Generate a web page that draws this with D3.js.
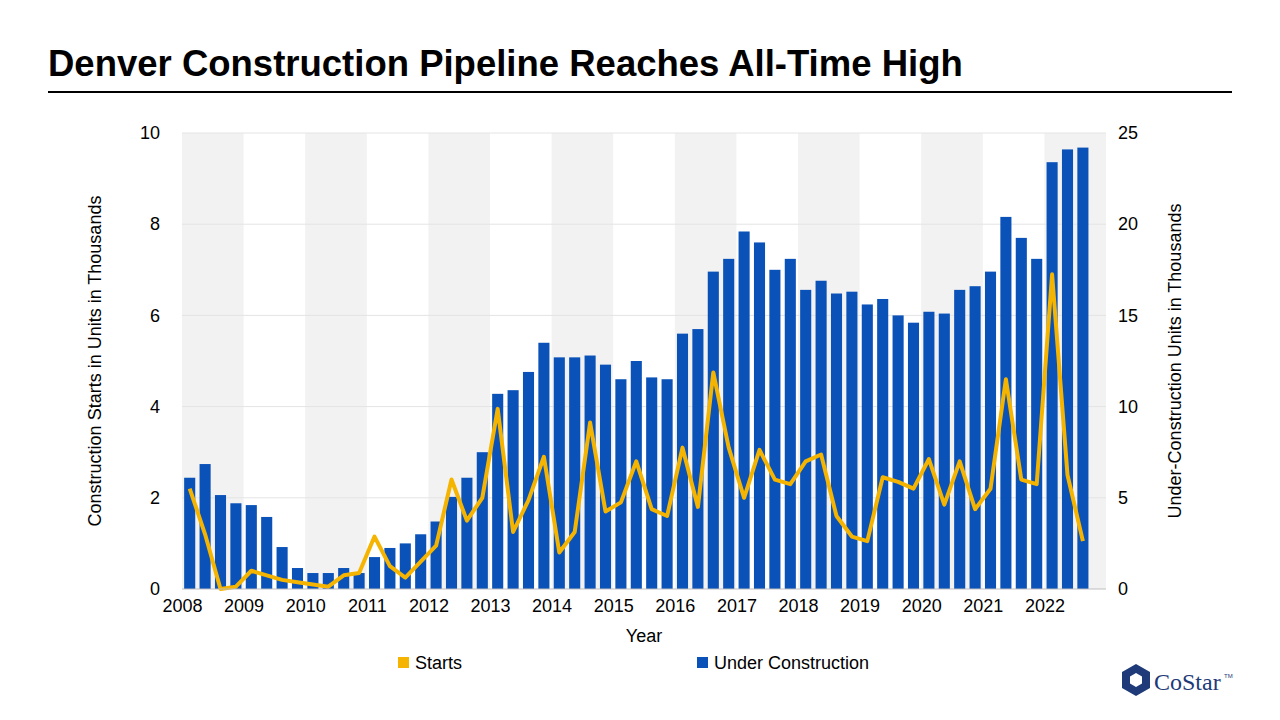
<!DOCTYPE html>
<html><head><meta charset="utf-8">
<script src="https://cdn.jsdelivr.net/npm/d3@7"></script>
<style>body{margin:0;background:#fff;font-family:Arial,"Liberation Sans",sans-serif}</style>
</head><body><svg id="chart" width="1280" height="720"></svg>
<script>
const years = d3.range(2008, 2023);
const quarters = [];
years.forEach(y => [1,2,3,4].forEach(q => quarters.push(y + "Q" + q)));
const underConstruction = [6.1,6.85,5.15,4.7, 4.6,3.95,2.3,1.15, 0.875,0.875,1.15,0.875, 1.75,2.25,2.5,3.0,
  3.7,5.05,6.1,7.5, 10.7,10.9,11.9,13.5, 12.7,12.7,12.8,12.3, 11.5,12.5,11.6,11.5, 14.0,14.25,17.4,18.1,
  19.6,19.0,17.5,18.1, 16.4,16.9,16.2,16.3, 15.6,15.9,15.0,14.6, 15.2,15.1,16.4,16.6, 17.4,20.4,19.25,18.1,
  23.4,24.1,24.2];
const starts = [2.2,1.2,0,0.05, 0.4,0.3,0.2,0.15, 0.1,0.05,0.3,0.35, 1.15,0.5,0.25,0.6,
  0.95,2.4,1.5,2.0, 3.95,1.25,1.95,2.9, 0.8,1.25,3.65,1.7, 1.9,2.8,1.75,1.6, 3.1,1.8,4.75,3.1,
  2.0,3.05,2.4,2.3, 2.8,2.95,1.6,1.15, 1.05,2.45,2.35,2.2, 2.85,1.85,2.8,1.75, 2.2,4.6,2.4,2.3,
  6.9,2.5,1.05];
const leftTicks = [0,2,4,6,8,10];
const rightTicks = [0,5,10,15,20,25];

const svg = d3.select("#chart");
const m = {l:182, r:1106, t:133, b:589};

svg.append("text").attr("x",48).attr("y",76).attr("font-size",36.5).attr("font-weight","bold").text("Denver Construction Pipeline Reaches All-Time High");
svg.append("line").attr("x1",48).attr("x2",1232).attr("y1",92).attr("y2",92).attr("stroke","#000").attr("stroke-width",2);

const x = d3.scaleBand().domain(quarters).range([m.l, m.r]).paddingInner(0.28).paddingOuter(0.14);
const xYear = d3.scaleLinear().domain([2008, 2023]).range([m.l, m.r]);
const yL = d3.scaleLinear().domain([0,10]).range([m.b, m.t]);
const yR = d3.scaleLinear().domain([0,25]).range([m.b, m.t]);

// alternating year bands
svg.append("g").selectAll("rect").data(years.filter((y,i) => i % 2 === 0)).join("rect")
  .attr("x", d => xYear(d)).attr("width", d => xYear(d+1) - xYear(d))
  .attr("y", m.t).attr("height", m.b - m.t).attr("fill", "#f2f2f2");

svg.append("g").selectAll("line").data(leftTicks.slice(1)).join("line")
  .attr("x1", m.l).attr("x2", m.r).attr("y1", d => yL(d)).attr("y2", d => yL(d))
  .attr("stroke", "#e4e4e4").attr("stroke-width", 1);

svg.append("g").selectAll("rect").data(underConstruction).join("rect")
  .attr("x", (d,i) => x(quarters[i])).attr("width", x.bandwidth())
  .attr("y", d => yR(d)).attr("height", d => m.b - yR(d)).attr("fill", "#0a51b8");

svg.append("path").datum(starts)
  .attr("fill","none").attr("stroke","#f5b400").attr("stroke-width",4).attr("stroke-linejoin","round")
  .attr("d", d3.line().x((d,i) => x(quarters[i]) + x.bandwidth()/2).y(d => yL(d)));

svg.append("line").attr("x1",m.l).attr("x2",m.r).attr("y1",m.b).attr("y2",m.b).attr("stroke","#bfbfbf");

const fs = 18;
const axL = svg.append("g").attr("transform",`translate(${m.l},0)`)
  .call(d3.axisLeft(yL).tickValues(leftTicks).tickSize(0).tickPadding(22));
const axR = svg.append("g").attr("transform",`translate(${m.r},0)`)
  .call(d3.axisRight(yR).tickValues(rightTicks).tickSize(0).tickPadding(12));
const axX = svg.append("g").attr("transform",`translate(0,${m.b})`)
  .call(d3.axisBottom(xYear).tickValues(years).tickFormat(d3.format("d")).tickSize(0).tickPadding(10));
[axL, axR, axX].forEach(a => {
  a.select(".domain").remove();
  a.selectAll("text").attr("font-size", fs).attr("fill", "#000").attr("font-family", "Arial, Liberation Sans, sans-serif");
});

svg.append("text").attr("transform","translate(101,361) rotate(-90)").attr("text-anchor","middle").attr("font-size",18).text("Construction Starts in Units in Thousands");
svg.append("text").attr("transform","translate(1181,361) rotate(-90)").attr("text-anchor","middle").attr("font-size",18).text("Under-Construction  Units in Thousands");
svg.append("text").attr("x",644).attr("y",642).attr("text-anchor","middle").attr("font-size",18).text("Year");

const legend = [{name:"Starts", c:"#f5b400", x:398}, {name:"Under Construction", c:"#0a51b8", x:697}];
const lg = svg.append("g").selectAll("g").data(legend).join("g").attr("transform", d => `translate(${d.x},663)`);
lg.append("rect").attr("x",0).attr("y",-6).attr("width",11).attr("height",11).attr("fill", d => d.c);
lg.append("text").attr("x",17).attr("y",6).attr("font-size",18).text(d => d.name);

// logo
const logo = svg.append("g").attr("transform","translate(1136,680)");
logo.append("polygon").attr("points","0,-16 14,-8 14,8 0,16 -14,8 -14,-8").attr("fill","#1e3a78");
logo.append("polygon").attr("points","0,-7 6,-3.5 6,3.5 0,7 -6,3.5 -6,-3.5").attr("fill","#fff");
svg.append("text").attr("x",1154).attr("y",690).attr("font-size",24).attr("font-family","Liberation Serif, serif").attr("fill","#1e3a78").text("CoStar");
svg.append("text").attr("x",1224).attr("y",678).attr("font-size",6).attr("fill","#1e3a78").text("TM");
</script></body></html>
